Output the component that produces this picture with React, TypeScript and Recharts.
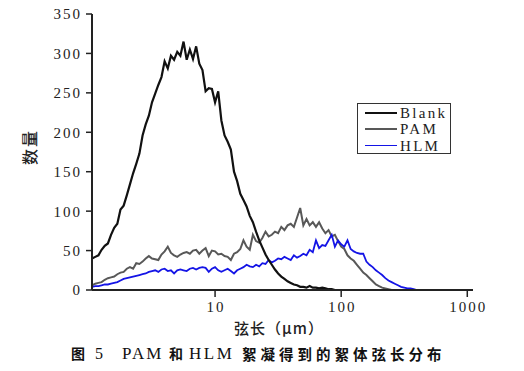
import React from "react";
import { LineChart, Line, XAxis, YAxis, Legend } from "recharts";

const chordLength = [
  1.059, 1.122, 1.189, 1.259, 1.334, 1.413, 1.496, 1.585, 1.679, 1.778,
  1.884, 1.995, 2.113, 2.239, 2.371, 2.512, 2.661, 2.818, 2.985, 3.162,
  3.35, 3.548, 3.758, 3.981, 4.217, 4.467, 4.732, 5.012, 5.309, 5.623,
  5.957, 6.31, 6.683, 7.079, 7.499, 7.943, 8.414, 8.913, 9.441, 10.0,
  10.59, 11.22, 11.89, 12.59, 13.34, 14.13, 14.96, 15.85, 16.79, 17.78,
  18.84, 19.95, 21.13, 22.39, 23.71, 25.12, 26.61, 28.18, 29.85, 31.62,
  33.5, 35.48, 37.58, 39.81, 42.17, 44.67, 47.32, 50.12, 53.09, 56.23,
  59.57, 63.1, 66.83, 70.79, 74.99, 79.43, 84.14, 89.13, 94.41, 100.0,
  105.9, 112.2, 118.9, 125.9, 133.4, 141.3, 149.6, 158.5, 167.9, 177.8,
  188.4, 199.5, 211.3, 223.9, 237.1, 251.2, 266.1, 281.8, 298.5, 316.2,
  335.0, 354.8, 375.8, 398.1, 421.7, 446.7,
];

const blankCount = [
  40, 42, 44, 51, 56, 59, 70, 79, 84, 102,
  107, 120, 134, 148, 160, 173, 196, 210, 221, 238,
  249, 260, 270, 290, 281, 297, 292, 302, 297, 315,
  292, 305, 293, 309, 287, 279, 252, 256, 255, 238,
  252, 215, 196, 188, 178, 150, 138, 122, 114, 106,
  94, 86, 74, 63, 54, 45, 38, 32, 26, 21,
  17, 14, 11, 9, 7, 6, 4, 4, 3, 5,
  3, 3, 2, 3, 2, 1, 1, 0,
];

const pamCount = [
  6, 8, 9, 10, 13, 15, 16, 17, 20, 22,
  23, 27, 29, 27, 34, 33, 36, 40, 43, 40,
  39, 38, 45, 49, 55, 47, 44, 42, 45, 47,
  48, 46, 50, 51, 46, 50, 53, 43, 50, 49,
  45, 46, 43, 42, 38, 46, 48, 52, 63, 55,
  51, 70, 62, 60, 66, 74, 68, 70, 74, 72,
  80, 76, 82, 84, 80, 92, 104, 82, 90, 82,
  86, 80, 86, 78, 72, 76, 68, 70, 62, 55,
  52, 44, 40, 37, 32, 27, 22, 19, 15, 11,
  7, 5, 3, 2, 1, 0,
];

const hlmCount = [
  4, 5, 5, 6, 7, 7, 8, 9, 10, 12,
  14, 15, 16, 17, 18, 19, 20, 21, 23, 24,
  25, 23, 26, 27, 24, 25, 21, 25, 26, 25,
  24, 27, 28, 26, 28, 29, 28, 23, 27, 29,
  25, 23, 25, 27, 24, 21, 25, 27, 29, 32,
  30, 29, 32, 30, 34, 33, 38, 35, 37, 40,
  39, 42, 40, 38, 44, 41, 43, 46, 44, 51,
  48, 63, 53, 57, 56, 63, 70, 55, 63, 58,
  55, 63, 52, 49, 47, 46, 46, 36, 32, 29,
  25, 22, 19, 15, 12, 10, 8, 6, 4, 3,
  2, 2, 1, 0,
];

const yTicks = [0, 50, 100, 150, 200, 250, 300, 350];
const yMinorTicks = [25, 75, 125, 175, 225, 275, 325];
const xTicks = [10, 100, 1000];
const xMinorTicks = [2, 3, 4, 5, 6, 7, 8, 9, 20, 30, 40, 50, 60, 70, 80, 90, 200, 300, 400, 500, 600, 700, 800, 900];
const xDomain = [1.057, 1110];
const seriesNames = ["Blank", "PAM", "HLM"];
const seriesColors = ["#111111", "#585858", "#1414e6"];

const data = chordLength.map((x, i) => ({
  x,
  blank: i < blankCount.length ? blankCount[i] : null,
  pam: i < pamCount.length ? pamCount[i] : null,
  hlm: i < hlmCount.length ? hlmCount[i] : null,
}));

const SERIF = "'Liberation Serif', 'DejaVu Serif', serif";
const CJK = "'Noto Sans CJK SC', sans-serif";

const YTick = (props: any) => {
  const { x, y, payload } = props;
  return (
    <text x={x} y={y} dy="0.36em" textAnchor="end" fontFamily={SERIF} fontSize={15} letterSpacing={2} fill="#222">
      {payload.value}
    </text>
  );
};

const XTick = (props: any) => {
  const { x, y, payload } = props;
  return (
    <text x={x + 1} y={y} dy={11} textAnchor="middle" fontFamily={SERIF} fontSize={15} letterSpacing={2} fill="#222">
      {payload.value}
    </text>
  );
};

const LegendBox = () => (
  <div
    style={{
      width: 92,
      height: 48,
      border: "1.5px solid #333",
      background: "#fff",
      boxSizing: "content-box",
      paddingTop: 1,
    }}
  >
    {seriesNames.map((n, i) => (
      <div key={n} style={{ display: "flex", alignItems: "center", height: 16.3 }}>
        <div style={{ width: 32, height: 0, borderTop: `${i === 2 ? 1.5 : 2}px solid ${seriesColors[i]}`, marginLeft: 7 }} />
        <span style={{ fontFamily: SERIF, fontSize: 15, letterSpacing: 2.3, marginLeft: 3, lineHeight: "16px", color: "#222" }}>{n}</span>
      </div>
    ))}
  </div>
);

export default function App() {
  return (
    <div style={{ position: "absolute", left: 0, top: 0, width: 524, height: 371, background: "#fff" }}>
      <LineChart width={524} height={371} data={data} margin={{ top: 14, right: 51, bottom: 0, left: 0 }}>
        <XAxis
          xAxisId="minor"
          dataKey="x"
          type="number"
          scale="log"
          domain={xDomain}
          allowDataOverflow
          ticks={xMinorTicks}
          tick={false}
          tickSize={4}
          tickLine={{ stroke: "#222", strokeWidth: 1.2 }}
          axisLine={false}
          height={0}
        />
        <XAxis
          dataKey="x"
          type="number"
          scale="log"
          domain={xDomain}
          allowDataOverflow
          ticks={xTicks}
          tick={<XTick />}
          tickSize={7}
          tickMargin={4}
          tickLine={{ stroke: "#222", strokeWidth: 1.5 }}
          axisLine={{ stroke: "#222", strokeWidth: 2 }}
          height={81}
          label={{
            content: () => (
              <g>
                <text x={279} y={327} dominantBaseline="central" textAnchor="middle" fontFamily={CJK} fontSize={15} fontWeight={500} letterSpacing={1} fill="#222">
                  弦长（μm）
                </text>
                <text y={353} dominantBaseline="central" fill="#111">
                  <tspan x={71} fontFamily={CJK} fontSize={14} fontWeight={700}>图</tspan>
                  <tspan x={95} fontFamily={SERIF} fontSize={16}>5</tspan>
                  <tspan x={122} fontFamily={SERIF} fontSize={17} letterSpacing={2}>PAM</tspan>
                  <tspan x={169} fontFamily={CJK} fontSize={14} fontWeight={700}>和</tspan>
                  <tspan x={189} fontFamily={SERIF} fontSize={17} letterSpacing={2.5}>HLM</tspan>
                  <tspan x={242} fontFamily={CJK} fontSize={14.5} fontWeight={700} letterSpacing={4}>絮凝得到的絮体弦长分布</tspan>
                </text>
              </g>
            ),
          }}
        />
        <XAxis
          xAxisId="top"
          orientation="top"
          dataKey="x"
          type="number"
          scale="log"
          domain={xDomain}
          allowDataOverflow
          tick={false}
          tickLine={false}
          axisLine={{ stroke: "#222", strokeWidth: 2 }}
          height={0}
        />
        <YAxis
          yAxisId="minor"
          type="number"
          domain={[0, 350]}
          ticks={yMinorTicks}
          tick={false}
          tickSize={3.5}
          tickLine={{ stroke: "#222", strokeWidth: 1.2 }}
          axisLine={false}
          width={0}
        />
        <YAxis
          type="number"
          domain={[0, 350]}
          ticks={yTicks}
          tick={<YTick />}
          tickSize={6}
          tickMargin={4}
          tickLine={{ stroke: "#222", strokeWidth: 1.5 }}
          axisLine={{ stroke: "#222", strokeWidth: 2 }}
          width={92}
          label={{
            content: () => (
              <text transform="translate(29,147) rotate(-90)" textAnchor="middle" dominantBaseline="central" fontFamily={CJK} fontSize={16} fontWeight={500} letterSpacing={2} fill="#222">
                数量
              </text>
            ),
          }}
        />
        <YAxis
          yAxisId="right"
          orientation="right"
          type="number"
          domain={[0, 350]}
          tick={false}
          tickLine={false}
          axisLine={{ stroke: "#222", strokeWidth: 2 }}
          width={0}
        />
        <Line dataKey="pam" name="PAM" stroke={seriesColors[1]} strokeWidth={2} dot={false} isAnimationActive={false} connectNulls={false} />
        <Line dataKey="hlm" name="HLM" stroke={seriesColors[2]} strokeWidth={1.8} dot={false} isAnimationActive={false} connectNulls={false} />
        <Line dataKey="blank" name="Blank" stroke={seriesColors[0]} strokeWidth={2.2} dot={false} isAnimationActive={false} connectNulls={false} />
        <Legend
          layout="horizontal"
          align="center"
          verticalAlign="middle"
          content={<LegendBox />}
          wrapperStyle={{ left: 357, top: 103, width: 95, height: 51 }}
        />
      </LineChart>
    </div>
  );
}
